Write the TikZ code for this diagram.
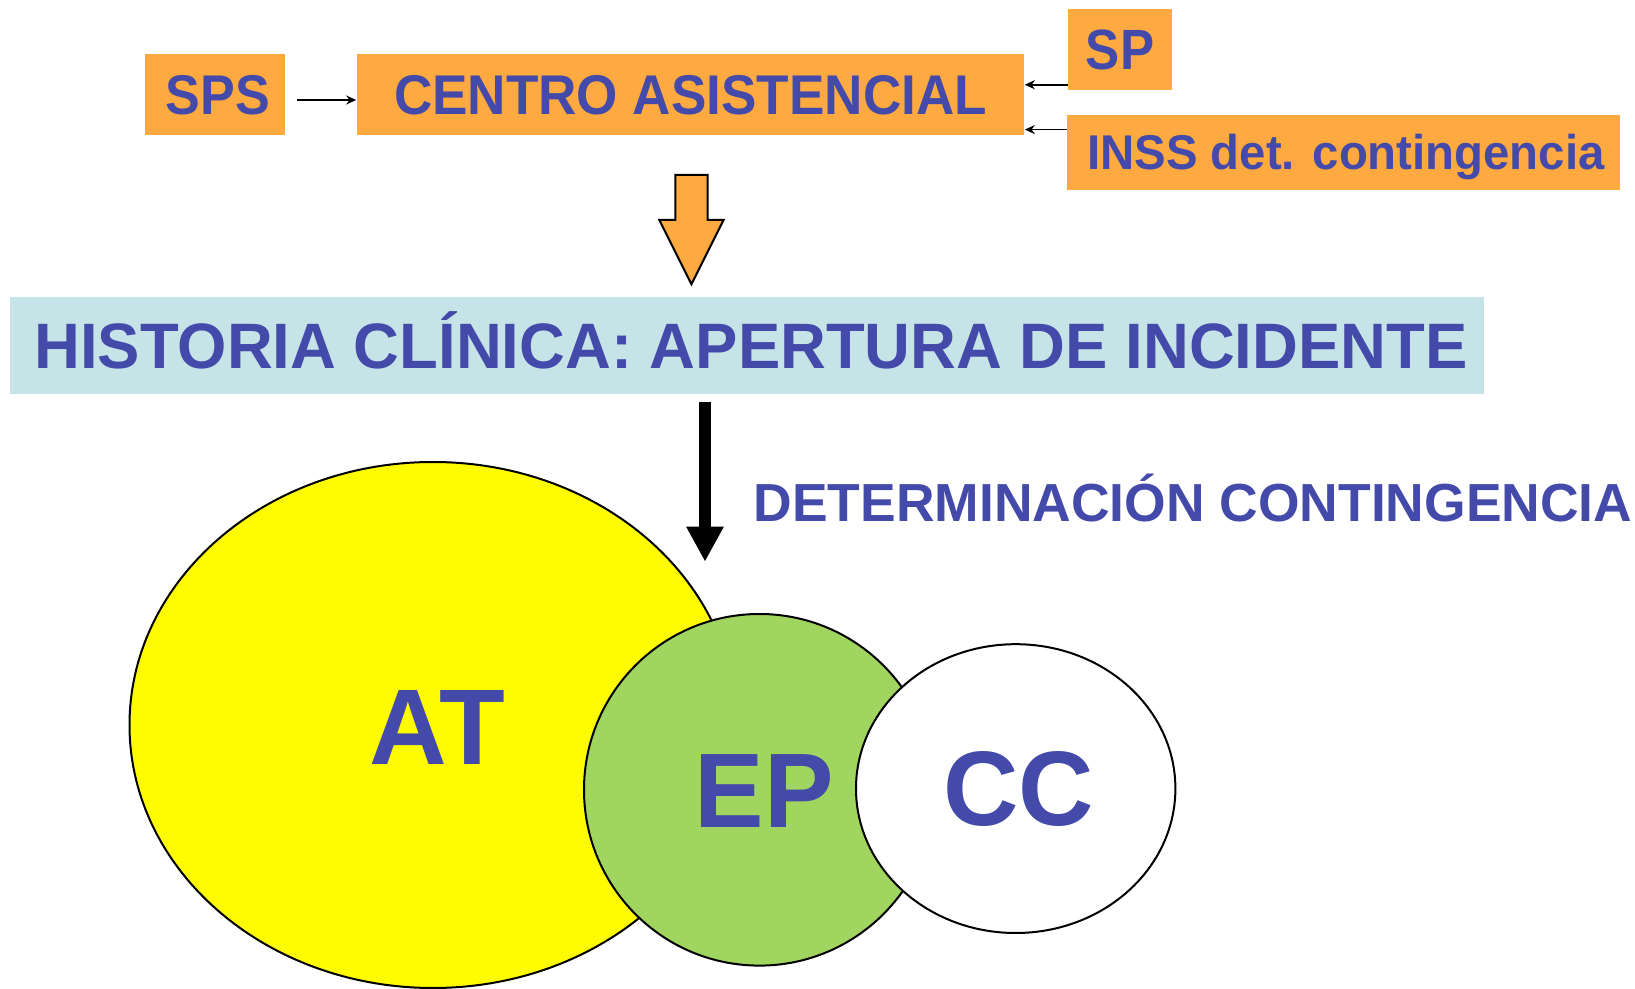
\documentclass[tikz,border=0pt]{standalone}
\usepackage{fontspec}
\setmainfont{Liberation Sans}
\usepackage{graphicx}
\usetikzlibrary{arrows.meta,shapes.geometric,calc}
\definecolor{orng}{HTML}{FFAA40}
\definecolor{txtblue}{HTML}{444AAA}
\definecolor{lblue}{HTML}{C6E4E8}
\definecolor{grn}{HTML}{A0D560}
\definecolor{ylw}{HTML}{FFFB00}
\newcommand{\tx}[3]{{\fontsize{#1pt}{#1pt}\selectfont\bfseries\scalebox{#2}[1]{#3}}}
\begin{document}
\begin{tikzpicture}[x=0.5pt,y=-0.5pt,
  obox/.style={fill=orng, draw=none, inner sep=0pt, text=txtblue, text depth=0pt},
  hbox/.style={fill=lblue, draw=none, inner sep=0pt, text=txtblue, text depth=0pt},
  circ/.style={ellipse, draw=black, line width=1pt, inner sep=0pt, text=txtblue, text depth=0pt},
  lbl/.style={inner sep=0pt, text=txtblue, text depth=0pt},
  thinarrow/.style={line width=0.9pt, -{Stealth[length=5pt,width=4.5pt]}},
  bigarrow/.style={line width=6pt, -{Triangle[length=17.5pt,width=17.5pt]}}]
\useasboundingbox (0,0) rectangle (1635,989);
\fill[white] (0,0) rectangle (1635,989);

% top boxes
\node[obox, minimum width=70pt, minimum height=40.5pt] (sps) at (215,94.5) {};
\node[lbl, text height=20pt] (spstxt) at (218,94.5) {\tx{28}{0.93}{SPS}};
\node[obox, minimum width=333.9pt, minimum height=40.5pt, text height=20pt] (centro) at (690.5,94.5) {\tx{28}{0.948}{CENTRO ASISTENCIAL}};
\node[obox, minimum width=52pt, minimum height=40.35pt, text height=20.3pt] (sp) at (1120,49.4) {\tx{28.4}{0.9}{SP}};
\node[obox, minimum width=276.4pt, minimum height=37.5pt] (inss) at (1343.3,152.5) {};
\node[lbl, text height=17.5pt] (insstxt) at (1346,152) {\tx{24.4}{0.97}{INSS det. contingencia}};

% connector end points
\coordinate (spsout) at ($(sps.east)+(11.5,5.5)$);
\coordinate (centroin) at ($(centro.west)+(0,5.5)$);
\coordinate (spout) at ($(sp.south west)+(0,-5.4)$);
\coordinate (spin) at (spout -| centro.east);
\coordinate (inssout) at ($(inss.north west)+(0,15)$);
\coordinate (inssin) at (inssout -| centro.east);

% thin arrows
\draw[thinarrow] (spsout) -- (centroin);
\draw[thinarrow] (spout) -- (spin);
\draw[thinarrow] (inssout) -- (inssin);

% orange block arrow
\draw[fill=orng, draw=black, line width=1pt, line join=miter]
  (675.3,175) -- (707.5,175) -- (707.5,220) -- (723.6,220) -- (691.4,284.3) -- (659.3,220) -- (675.3,220) -- cycle;

% historia
\node[hbox, minimum width=736.8pt, minimum height=48.5pt] (hist) at (747.2,345.2) {};
\node[lbl, text height=23pt] (histtxt) at (751,345.2) {\tx{32.1}{0.988}{HISTORIA CLÍNICA: APERTURA DE INCIDENTE}};

% black arrow
\coordinate (a1) at (705,402.3);
\coordinate (a2) at (705,561.7);
\draw[bigarrow] (a1) -- (a2);

\node[lbl, text height=19.2pt] (det) at (1193,502.5) {\tx{26.8}{0.997}{DETERMINACIÓN CONTINGENCIA}};

% ellipses
\node[circ, fill=ylw, minimum width=303.5pt, minimum height=263pt] (at) at (433,725) {};
\node[lbl, text height=38.5pt] (attxt) at (437.5,725.5) {\tx{53.8}{1.0}{AT}};
\node[circ, fill=grn, minimum width=175.4pt, minimum height=175.8pt] (ep) at (759.4,789.8) {};
\node[lbl, text height=38pt] (eptxt) at (764,789.5) {\tx{53}{0.983}{EP}};
\node[circ, fill=white, minimum width=159.7pt, minimum height=144.4pt] (cc) at (1015.7,788.6) {};
\node[lbl, text height=38pt] (cctxt) at (1019,787.4) {\tx{53}{0.985}{CC}};
\end{tikzpicture}
\end{document}
